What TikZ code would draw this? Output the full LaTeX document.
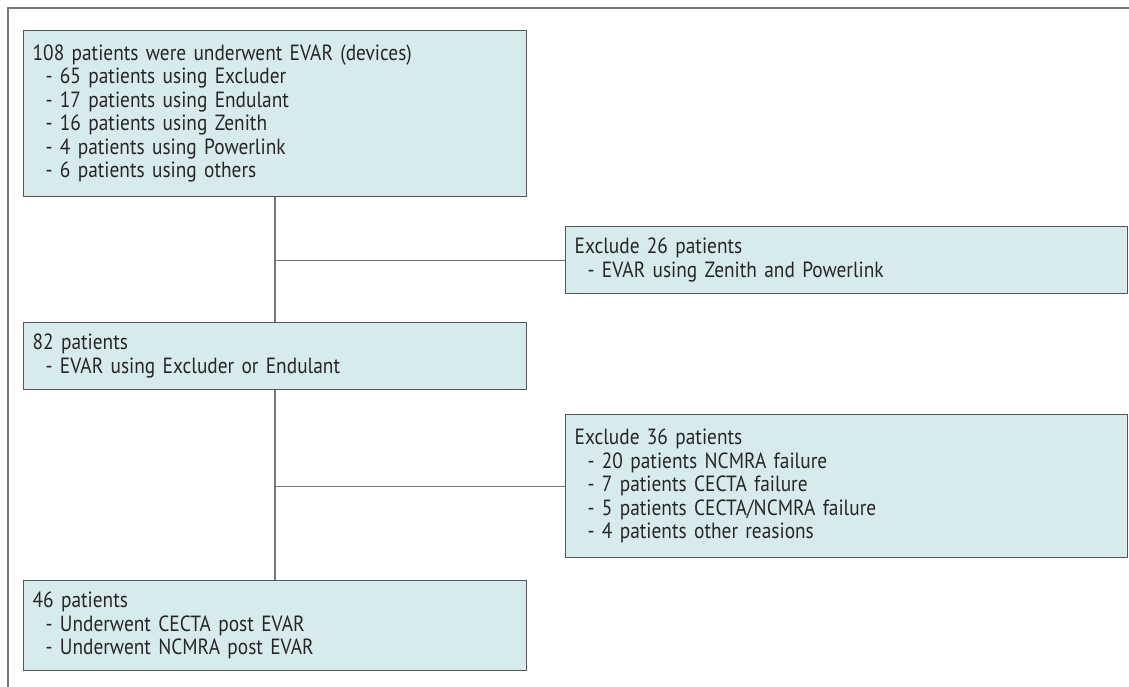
\documentclass[tikz,border=0pt]{standalone}
\usepackage{fontspec}
\setmainfont[FakeStretch=0.88]{PT Sans}
\definecolor{boxfill}{HTML}{D8EBEC}
\definecolor{boxline}{HTML}{555555}
\definecolor{conn}{HTML}{777777}
\begin{document}
\begin{tikzpicture}[x=1pt,y=-1pt,
  box/.style={draw=boxline,line width=1.3pt,fill=boxfill,anchor=north west,
    align=left,inner xsep=9pt,inner ysep=0pt,
    font=\fontsize{22}{23.5}\selectfont,text=black!85},
  conn/.style={draw=conn,line width=1.1pt}]
\useasboundingbox (0,0) rectangle (1129,687);
\draw[conn] (8,687) -- (8,8) -- (1129,8);
\newcommand{\ind}{\hspace*{13pt}}
\node[box,minimum width=503pt,minimum height=166pt,text width=485pt] (b1) at (23,30)
  {108 patients were underwent EVAR (devices)\\
   \ind- 65 patients using Excluder\\
   \ind- 17 patients using Endulant\\
   \ind- 16 patients using Zenith\\
   \ind- 4 patients using Powerlink\\
   \ind- 6 patients using others};
\node[box,minimum width=562pt,minimum height=67pt,text width=544pt] (b2) at (565,226)
  {Exclude 26 patients\\
   \ind- EVAR using Zenith and Powerlink};
\node[box,minimum width=503pt,minimum height=67pt,text width=485pt] (b3) at (23,322)
  {82 patients\\
   \ind- EVAR using Excluder or Endulant};
\node[box,minimum width=562pt,minimum height=143pt,text width=544pt] (b4) at (565,414)
  {Exclude 36 patients\\
   \ind- 20 patients NCMRA failure\\
   \ind- 7 patients CECTA failure\\
   \ind- 5 patients CECTA/NCMRA failure\\
   \ind- 4 patients other reasions};
\node[box,minimum width=503pt,minimum height=90pt,text width=485pt] (b5) at (23,580)
  {46 patients\\
   \ind- Underwent CECTA post EVAR\\
   \ind- Underwent NCMRA post EVAR};
\coordinate (j1) at (275,0 |- b2.west);
\coordinate (j2) at (275,0 |- b4.west);
\draw[conn] (b1.south -| j1) -- (b3.north -| j1);
\draw[conn] (b3.south -| j1) -- (b5.north -| j1);
\draw[conn] (j1) -- (b2.west);
\draw[conn] (j2) -- (b4.west);
\end{tikzpicture}
\end{document}
